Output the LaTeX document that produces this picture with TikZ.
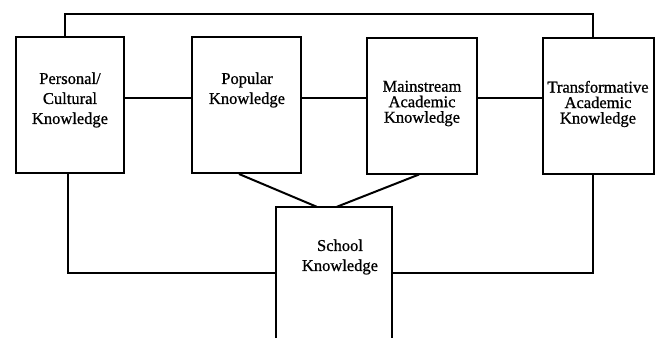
\documentclass[tikz,border=0pt]{standalone}
\usepackage{fontspec}
\setmainfont{Liberation Serif}
\newfontfamily\heavyserif{Liberation Serif}[FakeBold=0.8]
\usetikzlibrary{calc}
\begin{document}
\begin{tikzpicture}[x=1pt,y=-1pt,
  box/.style={draw,line width=2pt,minimum height=136pt,inner sep=0pt},
  txt/.style={font=\heavyserif\fontsize{16.5}{20}\selectfont,align=center,inner sep=0pt},
  txtn/.style={font=\heavyserif\fontsize{16.5}{15.5}\selectfont,align=center,inner sep=0pt},
  conn/.style={line width=2pt}]
\useasboundingbox (0,0) rectangle (657,338);
\node[box,minimum width=108pt] (p) at (70,105) {};
\node[box,minimum width=109pt] (pop) at (246.5,105) {};
\node[box,minimum width=110pt] (m) at (422,105.5) {};
\node[box,minimum width=111pt] (t) at (598.5,105.5) {};
\node[minimum width=116pt,minimum height=131pt,inner sep=0pt] (s) at (334,272.5) {};
\draw[conn,line join=miter] (s.south west) -- (s.north west) -- (s.north east) -- (s.south east);
\node[txt] (pt) at (70,100) {Personal/\\Cultural\\Knowledge};
\node[txt] (popt) at (247,90) {Popular\\Knowledge};
\node[txtn] (mt) at (422,103.5) {Mainstream\\Academic\\Knowledge};
\node[txtn] (tt) at (598,104) {Transformative\\Academic\\Knowledge};
\node[txt] (st) at (340,257) {School\\Knowledge};
\coordinate (tl) at (65,14);
\coordinate (tr) at (593,14);
\coordinate (h) at (0,98);
\coordinate (bl) at (68,273);
\coordinate (br) at (593,273);
\draw[conn] (tl |- p.north) -- (tl) -- (tr) -- (tr |- t.north);
\draw[conn] (p.east |- h) -- (pop.west |- h);
\draw[conn] (pop.east |- h) -- (m.west |- h);
\draw[conn] (m.east |- h) -- (t.west |- h);
\draw[conn] (bl |- p.south) -- (bl) -- (bl -| s.west);
\draw[conn] (br |- t.south) -- (br) -- (br -| s.east);
\draw[conn] ($(pop.south west)+(48,0)$) -- ($(s.north west)+(41,0)$);
\draw[conn] ($(m.south west)+(53,0)$) -- ($(s.north west)+(61,0)$);
\end{tikzpicture}
\end{document}
